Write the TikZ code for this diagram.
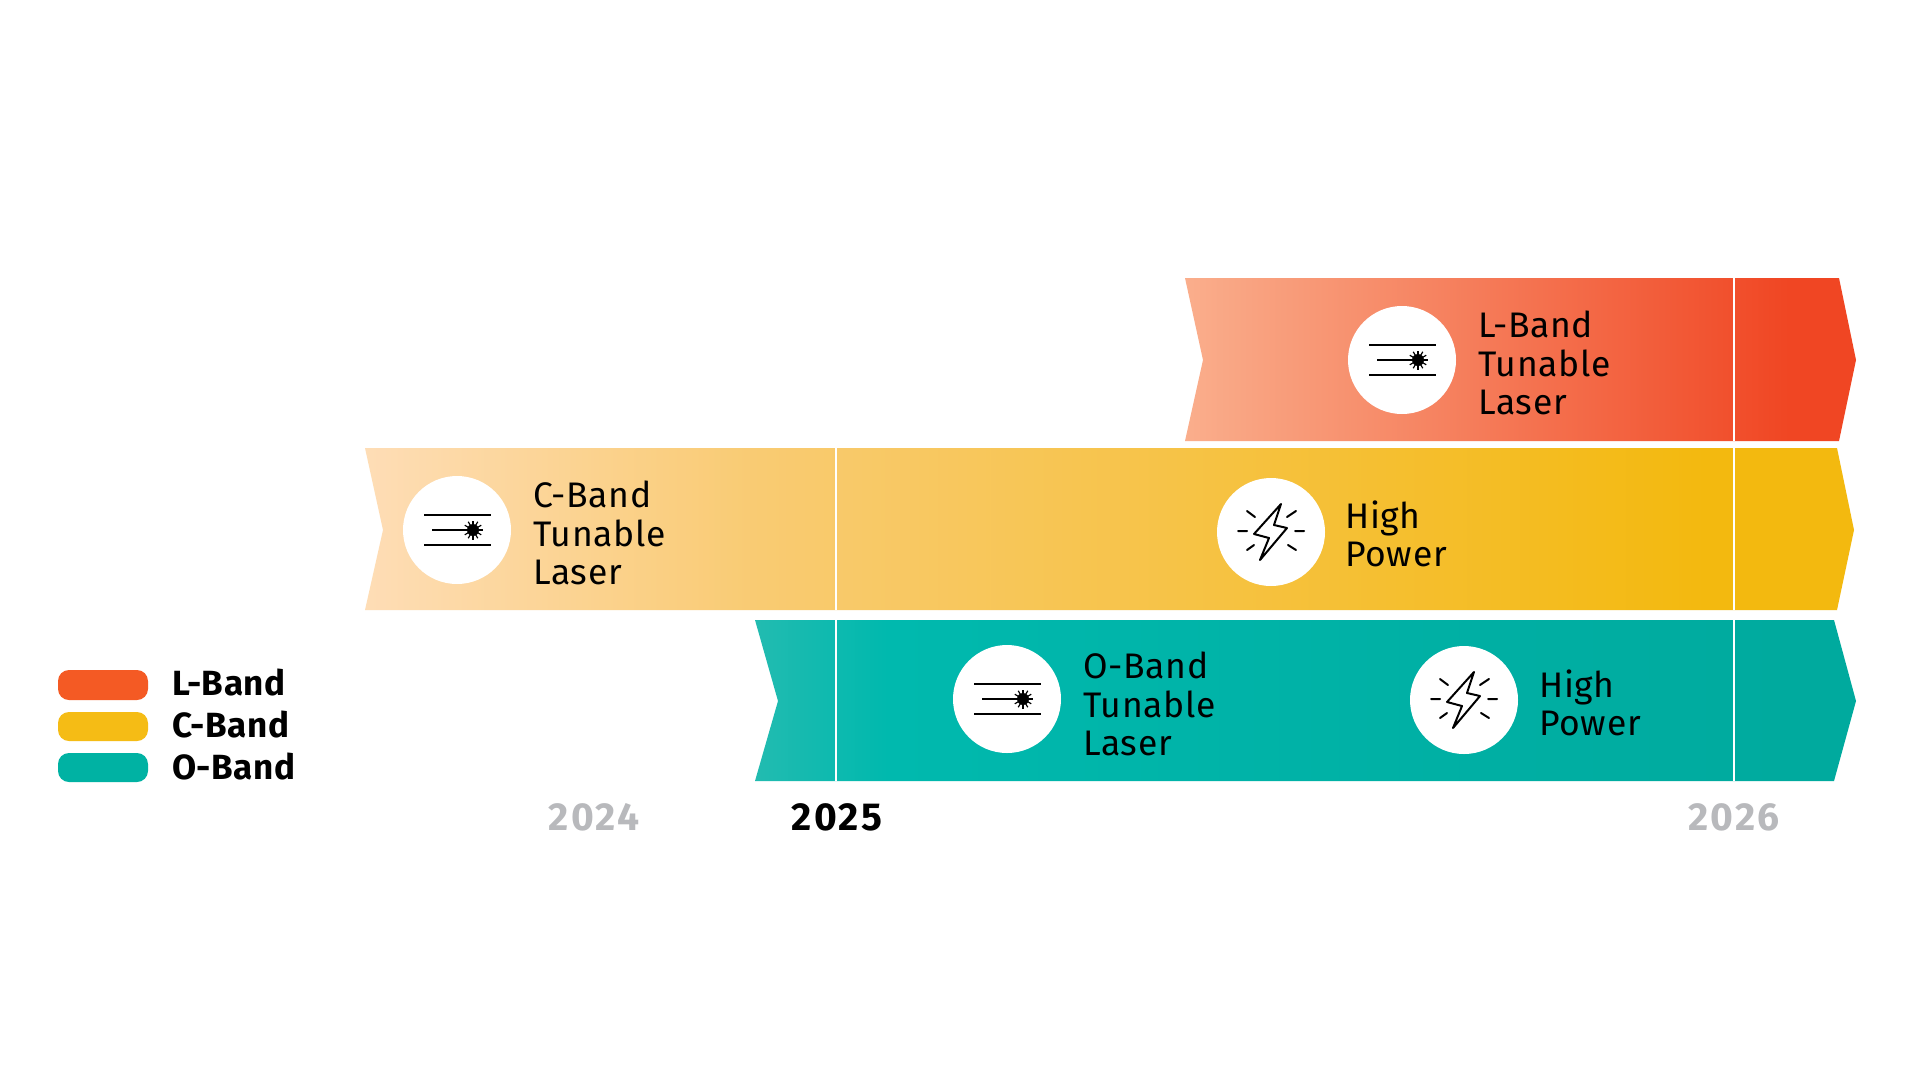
\documentclass[tikz,border=0pt]{standalone}
\usepackage{fontspec}
\setmainfont{Fira Sans}
\definecolor{lA}{HTML}{FAAE8C}\definecolor{lB}{HTML}{F04623}
\definecolor{cA}{HTML}{FEDDB6}\definecolor{cM}{HTML}{F9CB73}\definecolor{cB}{HTML}{F3B90F}
\definecolor{oA}{HTML}{22BBB0}\definecolor{oM}{HTML}{00B9AE}\definecolor{oB}{HTML}{00AA9E}
\definecolor{legL}{HTML}{F45A24}\definecolor{legC}{HTML}{F5BC15}\definecolor{legO}{HTML}{00B2A3}
\definecolor{yeargrey}{HTML}{B8B9BC}
\pgfdeclarehorizontalshading{lband}{100bp}{color(0bp)=(lA); color(25bp)=(lA); color(70bp)=(lB); color(100bp)=(lB)}
\pgfdeclarehorizontalshading{cband}{100bp}{color(0bp)=(cA); color(25bp)=(cA); color(38bp)=(cM); color(70bp)=(cB); color(100bp)=(cB)}
\pgfdeclarehorizontalshading{oband}{100bp}{color(0bp)=(oA); color(25bp)=(oA); color(31bp)=(oM); color(72bp)=(oB); color(100bp)=(oB)}
\tikzset{
  x=1pt,y=-1pt,
  disc/.style={circle,fill=white,minimum size=108pt,inner sep=0pt},
  bandtext/.style={anchor=west,align=left,inner sep=0pt,font=\fontsize{35.5}{38.5}\selectfont\addfontfeatures{LetterSpace=2}\selectfont,text=black},
  legtext/.style={anchor=west,inner sep=0pt,font=\fontsize{35}{38}\bfseries\addfontfeatures{LetterSpace=1.5}\selectfont},
  year/.style={anchor=center,inner sep=0pt,font=\fontsize{39}{39}\bfseries\addfontfeatures{LetterSpace=6}\selectfont},
  pill/.style={rounded corners=11pt,fill=#1},
  tick/.style={white,line width=2pt},
  icon/.style={black,line width=2pt},
  laser/.pic={
    \draw[icon] (-33,-15) -- (34,-15) (-33,15) -- (34,15) (-25,0) -- (8,0);
    \fill[black] (16,0) circle (6);
    \foreach \a in {0,30,...,330}{\draw[black,line width=1.2pt] (16,0) -- ++(\a:9.5);}
  },
  bolt/.pic={
    \draw[icon,line join=round] (10,-28) -- (-17,2) -- (-2,6) -- (-11,28) -- (16,-4) -- (3,-7) -- cycle;
    \draw[icon,line cap=round] (-33,-1) -- (-24,-1) (24,-1) -- (33,-1)
      (-24,-21) -- (-16,-15) (16,-15) -- (25,-21) (-24,18) -- (-17,13) (17,13) -- (25,18);
  },
}
\begin{document}
\begin{tikzpicture}
\useasboundingbox (0,0) rectangle (1920,1080);
\fill[white] (0,0) rectangle (1920,1080);
% bands
\shade[shading=lband] (1185,278) -- (1839,278) -- (1856,360) -- (1839,441) -- (1185,441) -- (1203,360) -- cycle;
\shade[shading=cband] (365,448) -- (1837,448) -- (1854,530) -- (1837,610) -- (365,610) -- (383,530) -- cycle;
\shade[shading=oband] (755,620) -- (1834,620) -- (1856,701) -- (1834,781) -- (755,781) -- (778,701) -- cycle;
% year ticks
\draw[tick] (1734,278) -- (1734,441) (1734,448) -- (1734,610) (1734,620) -- (1734,781);
\draw[tick] (836,448) -- (836,610) (836,620) -- (836,781);
% discs and icons
\node[disc] (dl) at (1402,360) {};
\node[disc] (dc) at (457,530) {};
\node[disc] (dh) at (1271,532) {};
\node[disc] (do) at (1007,699) {};
\node[disc] (dp) at (1464,700) {};
\pic at (dl) {laser};
\pic at (dc) {laser};
\pic at (do) {laser};
\pic at (dh) {bolt};
\pic at (dp) {bolt};
% band texts
\node[bandtext] (tl) at (1478,363) {L-Band\\Tunable\\Laser};
\node[bandtext] (tc) at (533,533) {C-Band\\Tunable\\Laser};
\node[bandtext] (th) at (1345,534) {High\\Power};
\node[bandtext] (to) at (1083,704) {O-Band\\Tunable\\Laser};
\node[bandtext] (tp) at (1539,703) {High\\Power};
% legend
\fill[pill=legL] (58,670) rectangle (148,700);
\fill[pill=legC] (58,712) rectangle (148,741);
\fill[pill=legO] (58,753) rectangle (148,782);
\node[legtext] (ll) at (172,683) {L-Band};
\node[legtext] (lc) at (172,725) {C-Band};
\node[legtext] (lo) at (172,767) {O-Band};
% years
\node[year,text=yeargrey] (y4) at (594,817) {2024};
\node[year,text=black] (y5) at (837,817) {2025};
\node[year,text=yeargrey] (y6) at (1734,817) {2026};
\end{tikzpicture}
\end{document}
